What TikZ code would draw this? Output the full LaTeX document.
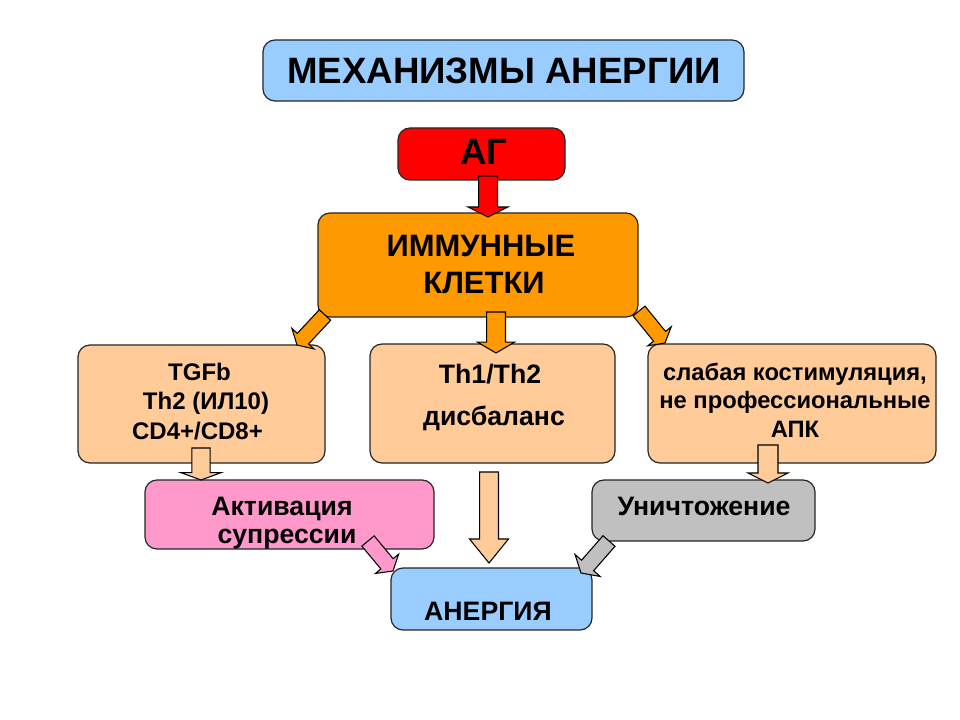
\documentclass[tikz,border=0pt]{standalone}
\usepackage{fontspec}
\setmainfont{Liberation Sans}
\usetikzlibrary{calc}
\definecolor{ltblue}{HTML}{99CCFF}
\definecolor{agred}{HTML}{FF0000}
\definecolor{immorange}{HTML}{FF9900}
\definecolor{peach}{HTML}{FFCC99}
\definecolor{pinkbox}{HTML}{FF99CC}
\definecolor{greybox}{HTML}{C0C0C0}
\definecolor{edge}{HTML}{262626}
\tikzset{
  box/.style={draw=edge, line width=0.9pt, rounded corners=9pt, inner sep=0pt},
  txt/.style={font=\bfseries, inner sep=0pt, anchor=base},
  barr/.style={draw=black, line width=0.8pt, line join=miter},
}
\newcommand\fsz[1]{\fontsize{#1}{#1}\selectfont}
% #1 fill, #2 start, #3 tip, #4 shaft half width, #5 head half width, #6 head length
\newcommand\blockarrow[6]{%
  \coordinate (hb) at ($(#3)!#6!(#2)$);
  \draw[barr, fill=#1] ($(#2)!#4!90:(#3)$) -- ($(hb)!#4!90:(#3)$) -- ($(hb)!#5!90:(#3)$) -- (#3)
     -- ($(hb)!#5!-90:(#3)$) -- ($(hb)!#4!-90:(#3)$) -- ($(#2)!#4!-90:(#3)$) -- cycle;
}
\begin{document}
\begin{tikzpicture}[x=0.75pt,y=-0.75pt]
\useasboundingbox[fill=white] (0,0) rectangle (960,720);

% boxes
\node[box, fill=ltblue, minimum width=360.75pt, minimum height=45.75pt] (title) at (503.5,70.5) {};
\node[box, fill=agred, minimum width=125.25pt, minimum height=39pt] (ag) at (481.5,154) {};
\node[box, fill=immorange, minimum width=240pt, minimum height=78pt] (imm) at (478,265) {};
\node[box, fill=peach, minimum width=185.25pt, minimum height=88.5pt] (left) at (201.5,404) {};
\node[box, fill=peach, minimum width=183.75pt, minimum height=89.25pt] (mid) at (492.5,403.5) {};
\node[box, fill=peach, minimum width=216pt, minimum height=89.25pt] (right) at (792,403.5) {};
\node[box, fill=pinkbox, minimum width=216.75pt, minimum height=51.75pt] (act) at (289.5,514.5) {};
\node[box, fill=greybox, minimum width=167.25pt, minimum height=45.75pt] (kill) at (703.5,510.5) {};
\node[box, fill=ltblue, minimum width=150.75pt, minimum height=46.5pt] (anerg) at (491.5,599) {};

% texts
\node[txt, font=\bfseries\fsz{27.5}] (titlet) at (504,83.5) {МЕХАНИЗМЫ АНЕРГИИ};
\node[txt, font=\bfseries\fsz{27.5}] (agt) at (484,165) {АГ};
\node[txt, font=\bfseries\fsz{23.2}] (immt1) at (481,257) {ИММУННЫЕ};
\node[txt, font=\bfseries\fsz{23.2}] (immt2) at (484,293) {КЛЕТКИ};
\node[txt, font=\bfseries\fsz{18}] (lt1) at (199.5,380) {TGFb};
\node[txt, font=\bfseries\fsz{18}] (lt2) at (206,409) {Th2 (ИЛ10)};
\node[txt, font=\bfseries\fsz{18}] (lt3) at (197.5,439) {CD4+/CD8+};
\node[txt, font=\bfseries\fsz{20}] (mt1) at (490,383) {Th1/Th2};
\node[txt, font=\bfseries\fsz{20}] (mt2) at (494,425) {дисбаланс};
\node[txt, font=\bfseries\fsz{17.8}] (rt1) at (795,380) {слабая костимуляция,};
\node[txt, font=\bfseries\fsz{17.8}] (rt2) at (795,408.5) {не профессиональные};
\node[txt, font=\bfseries\fsz{17.8}] (rt3) at (795,437) {АПК};
\node[txt, font=\bfseries\fsz{20}] (at1) at (282,515) {Активация};
\node[txt, font=\bfseries\fsz{20}] (at2) at (287,543) {супрессии};
\node[txt, font=\bfseries\fsz{20}] (killt) at (704,515) {Уничтожение};
\node[txt, font=\bfseries\fsz{20}] (anergt) at (488,620) {АНЕРГИЯ};

% arrow end points
\coordinate (r0) at (488,176);   \coordinate (r1) at (488,217);
\coordinate (o0) at (496,312);   \coordinate (o1) at (496,353);
\coordinate (ol0) at (325,315);  \coordinate (ol1) at (297,345);
\coordinate (or0) at (639,311);  \coordinate (or1) at (665,343);
\coordinate (pl0) at (201,448);  \coordinate (pl1) at (201,480);
\coordinate (pm0) at (489,472);  \coordinate (pm1) at (489,563);
\coordinate (pr0) at (768,445);  \coordinate (pr1) at (768,483);
\coordinate (pk0) at (368,541);  \coordinate (pk1) at (393,571);
\coordinate (g0) at (609,541);   \coordinate (g1) at (581,573);

% block arrows
\blockarrow{agred}{r0}{r1}{7.1pt}{15pt}{7.5pt}
\blockarrow{immorange}{o0}{o1}{7.1pt}{14pt}{8.2pt}
\blockarrow{immorange}{ol0}{ol1}{5.8pt}{11.3pt}{6.5pt}
\blockarrow{immorange}{or0}{or1}{5.8pt}{11.3pt}{6.5pt}
\blockarrow{peach}{pl0}{pl1}{6.8pt}{15pt}{5.5pt}
\blockarrow{peach}{pm0}{pm1}{7.1pt}{14.6pt}{18pt}
\blockarrow{peach}{pr0}{pr1}{7.5pt}{15pt}{7.5pt}
\blockarrow{pinkbox}{pk0}{pk1}{6pt}{11.3pt}{7pt}
\blockarrow{greybox}{g0}{g1}{6pt}{12.5pt}{7.5pt}
\end{tikzpicture}
\end{document}
